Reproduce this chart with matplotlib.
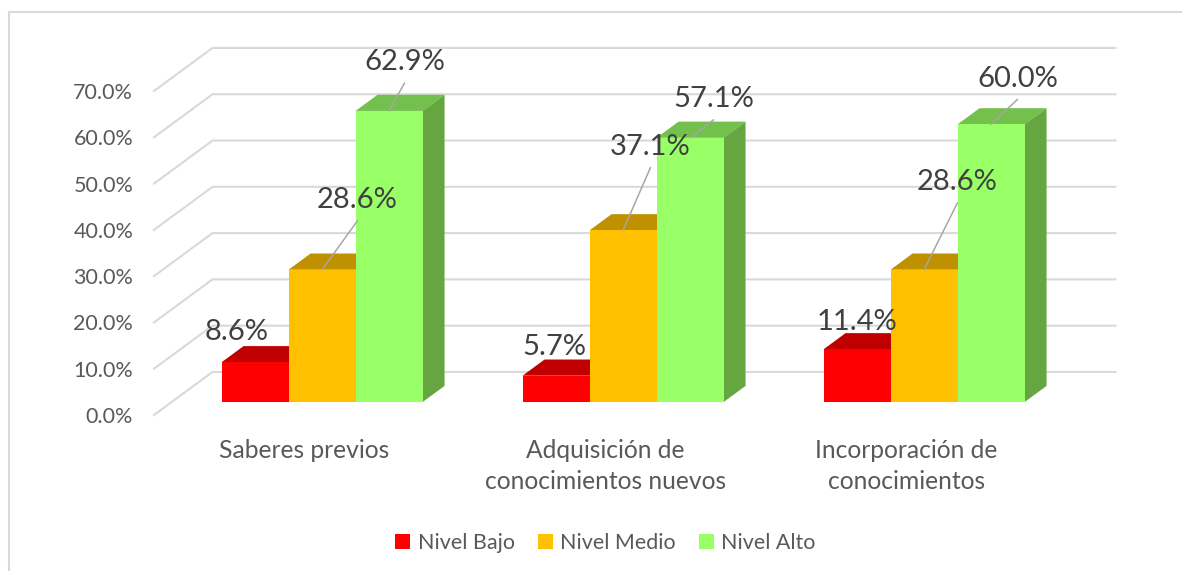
import matplotlib
matplotlib.use("Agg")
import matplotlib.pyplot as plt
from matplotlib.lines import Line2D
from matplotlib.patches import Patch, Polygon

plt.rcParams["font.family"] = ["Lato", "DejaVu Sans"]

W, H = 1182, 571

categories = ["Saberes previos", "Adquisición de\nconocimientos nuevos", "Incorporación de\nconocimientos"]
series_names = ["Nivel Bajo", "Nivel Medio", "Nivel Alto"]
nivel_bajo = [8.6, 5.7, 11.4]
nivel_medio = [28.6, 37.1, 28.6]
nivel_alto = [62.9, 57.1, 60.0]
y_ticks = [0, 10, 20, 30, 40, 50, 60, 70]

front_colors = ["#FF0000", "#FFC000", "#99FF66"]
top_colors = ["#C00000", "#BF9000", "#73C04D"]
side_colors = ["#BF0000", "#BF9000", "#66A640"]

# label offsets from the bar top, in pixels (hand placed in the original)
label_offsets = [
  [(-18.5, 30.5), (35.5, 69.5), (15.5, 48.5)],
  [(-1.5, 28.5), (27.5, 83.5), (23.5, 38.5)],
  [(0, 27.5), (33.5, 87.5), (26.5, 45.5)],
]
has_leader = [
  [False, True, True],
  [False, True, True],
  [False, True, True],
]

# fake 3d: wall depth in data units
DEPTH_X = 58.5 / 301
DEPTH_Y = 9.3
BAR_WIDTH = 67 / 301
BAR_DEPTH = 0.376
BAR_START = 0.30

fig = plt.figure(figsize=(W / 100, H / 100), dpi=100)
fig.patch.set_facecolor("white")
# chart frame is cropped: only its top and left edges are in the picture
fig.add_artist(Line2D([9.5 / W, 9.5 / W, 1], [0, 1 - 12 / H, 1 - 12 / H],
                      transform=fig.transFigure, color="#D9D9D9", linewidth=1.5,
                      solid_joinstyle="miter"))

ax = fig.add_axes([154 / W, 1 - 415 / H, 903 / W, 324 / H])
ax.set_xlim(0, 3)
ax.set_ylim(0, 70)
ax.patch.set_alpha(0)
for spine in ax.spines.values():
  spine.set_visible(False)

for v in y_ticks:
  ax.plot([0, DEPTH_X, 3 + DEPTH_X], [v, v + DEPTH_Y, v + DEPTH_Y], color="#D9D9D9",
          linewidth=1.5, clip_on=False, zorder=1, solid_joinstyle="miter")

series = [nivel_bajo, nivel_medio, nivel_alto]
base = BAR_START * DEPTH_Y
shift = BAR_START * DEPTH_X
dx = BAR_DEPTH * DEPTH_X
dy = BAR_DEPTH * DEPTH_Y

for s, values in enumerate(series):
  z = 2 + s
  for i, v in enumerate(values):
    left = i + 0.5 + shift + (s - 1.5) * BAR_WIDTH
    right = left + BAR_WIDTH
    top = base + v
    ax.bar(left, v, width=BAR_WIDTH, bottom=base, align="edge", color=front_colors[s],
           linewidth=0, clip_on=False, zorder=z + 0.2)
    ax.add_patch(Polygon([(left, top), (right, top), (right + dx, top + dy), (left + dx, top + dy)],
                         closed=True, facecolor=top_colors[s], linewidth=0, clip_on=False, zorder=z))
    ax.add_patch(Polygon([(right, base), (right + dx, base + dy), (right + dx, top + dy), (right, top)],
                         closed=True, facecolor=side_colors[s], linewidth=0, clip_on=False, zorder=z))

# labels go last so they sit over every bar
for s, values in enumerate(series):
  for i, v in enumerate(values):
    cx = i + 0.5 + shift + (s - 1) * BAR_WIDTH
    ox, oy = label_offsets[i][s]
    if has_leader[i][s]:
      ax.annotate("", xy=(cx, base + v), xytext=(ox, oy - 20.5), textcoords="offset pixels",
                  arrowprops=dict(arrowstyle="-", color="#A6A6A6", linewidth=1.1, shrinkA=0, shrinkB=0),
                  zorder=8, annotation_clip=False)
    ax.annotate(f"{v:.1f}%", xy=(cx, base + v), xytext=(ox, oy), textcoords="offset pixels",
                ha="center", va="center", fontsize=21, color="#404040", zorder=9, annotation_clip=False)

ax.set_yticks(y_ticks)
ax.set_yticklabels([f"{v:.1f}%" for v in y_ticks], fontsize=15.5, color="#595959")
ax.set_xticks([0.5, 1.5, 2.5])
ax.set_xticklabels(categories, fontsize=17.75, color="#595959", linespacing=1.45)
ax.tick_params(axis="y", length=0, pad=15)
ax.tick_params(axis="x", length=0, pad=17)

handles = [Patch(facecolor=c, linewidth=0) for c in front_colors]
fig.legend(handles, series_names, loc="center", bbox_to_anchor=(605.5 / W, 1 - 543 / H), ncol=3,
           frameon=False, fontsize=15.5, labelcolor="#595959", handlelength=0.68, handleheight=0.68,
           handletextpad=0.35, columnspacing=1.08)

fig.savefig("out.png", dpi=100)
